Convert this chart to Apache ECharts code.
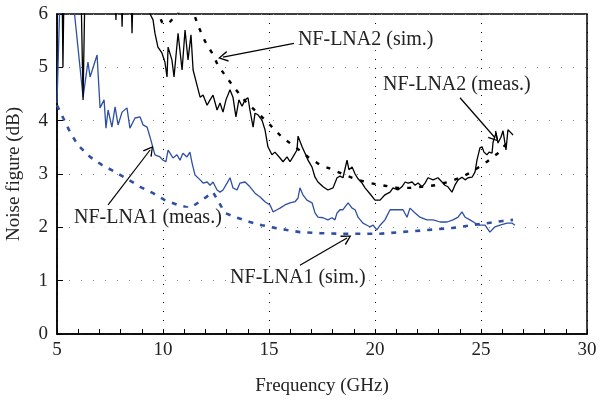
<!DOCTYPE html>
<html>
<head>
<meta charset="utf-8">
<script src="https://cdn.jsdelivr.net/npm/echarts@6/dist/echarts.min.js"></script>
<style>
  html, body { margin: 0; padding: 0; background: #fff; }
  #chart { width: 600px; height: 403px; }
</style>
</head>
<body>
<div id="chart"></div>
<script>
// frequency (GHz), noise figure (dB)
var lna1Meas = [
  [5.00,4.33],[5.14,6.3],[5.75,6.3],[6.23,4.44],[6.46,5.10],[6.56,4.82],[6.89,5.23],[7.03,4.24],
  [7.22,4.39],[7.31,3.86],[7.41,4.20],[7.59,3.88],[7.74,4.26],[7.88,3.92],[8.07,4.16],[8.30,4.24],
  [8.44,3.86],[8.68,4.05],[8.92,4.07],[9.06,3.92],[9.25,3.88],[9.39,3.69],[9.62,3.36],[9.86,3.32],
  [10.00,3.26],[10.14,3.23],[10.24,3.45],[10.33,3.39],[10.47,3.30],[10.66,3.36],[10.80,3.26],
  [10.94,3.39],[11.13,3.32],[11.27,3.41],[11.37,3.21],[11.51,2.98],[11.75,2.89],[11.89,2.83],
  [12.08,2.85],[12.22,2.79],[12.36,2.85],[12.55,2.70],[12.69,2.66],[12.83,2.70],[13.02,2.83],
  [13.16,2.93],[13.30,2.74],[13.49,2.70],[13.63,2.83],[13.87,2.85],[14.10,2.76],[14.34,2.64],
  [14.58,2.57],[14.81,2.48],[15.05,2.42],[15.19,2.29],[15.38,2.33],[15.52,2.36],[15.75,2.42],
  [15.99,2.46],[16.23,2.48],[16.37,2.55],[16.46,2.74],[16.60,2.61],[16.79,2.51],[17.03,2.46],
  [17.17,2.27],[17.31,2.19],[17.55,2.18],[17.78,2.14],[17.97,2.18],[18.11,2.14],[18.21,2.27],
  [18.35,2.33],[18.49,2.33],[18.73,2.46],[18.92,2.36],[19.06,2.33],[19.20,2.19],[19.43,2.08],
  [19.62,2.04],[19.76,2.01],[19.91,2.04],[20.09,1.95],[20.24,2.04],[20.47,2.14],[20.71,2.33],
  [21.04,2.33],[21.32,2.33],[21.51,2.19],[21.65,2.36],[21.89,2.27],[22.12,2.19],[22.45,2.14],
  [22.74,2.14],[23.07,2.10],[23.40,2.10],[23.68,2.14],[23.92,2.19],[24.10,2.29],[24.25,2.19],
  [24.48,2.14],[24.72,2.08],[24.95,2.04],[25.19,2.04],[25.42,1.91],[25.66,2.01],[25.90,2.04],
  [26.23,2.08],[26.46,2.08],[26.60,2.04]
];
var lna1Sim = [
  [5.00,4.29],[5.61,3.79],[5.99,3.54],[6.56,3.32],[7.12,3.17],[7.74,3.04],[8.30,2.91],[8.92,2.76],
  [9.53,2.64],[10.09,2.51],[10.71,2.42],[11.27,2.36],[11.84,2.51],[12.36,2.66],[12.92,2.27],
  [13.49,2.18],[14.10,2.10],[14.67,2.04],[15.28,1.99],[15.85,1.95],[16.46,1.91],[17.41,1.89],
  [18.35,1.88],[19.29,1.88],[20.24,1.88],[21.18,1.91],[22.50,1.95],[23.68,1.99],[24.95,2.06],
  [26.04,2.12],[26.51,2.14]
];
var lna2Meas = [
  [5.00,6.5],[5.24,6.5],[5.28,5.00],[5.33,6.5],[6.13,6.5],[6.23,4.39],[6.32,6.5],[7.74,6.5],
  [7.78,5.89],[7.83,6.5],[8.02,6.5],[8.07,5.76],[8.12,6.5],[8.49,6.5],[8.54,5.64],[8.59,6.5],
  [9.30,6.5],[9.39,6.00],[9.53,5.89],[9.62,5.64],[9.76,5.38],[9.95,5.27],[10.09,5.10],[10.19,4.82],
  [10.24,5.38],[10.42,5.14],[10.52,4.82],[10.71,5.64],[10.90,4.95],[11.04,5.70],[11.18,5.14],
  [11.32,5.61],[11.42,4.95],[11.60,4.67],[11.75,4.44],[11.89,4.48],[12.08,4.29],[12.22,4.39],
  [12.36,4.48],[12.55,4.20],[12.69,4.33],[12.83,4.16],[12.97,4.39],[13.16,4.58],[13.30,4.44],
  [13.44,4.07],[13.58,4.39],[13.73,4.27],[13.87,4.39],[14.01,4.43],[14.10,4.20],[14.25,3.88],
  [14.34,4.14],[14.48,4.11],[14.67,4.01],[14.81,3.83],[14.95,3.51],[15.14,3.36],[15.28,3.41],
  [15.52,3.30],[15.66,3.23],[15.85,3.32],[15.99,3.23],[16.13,3.32],[16.32,3.45],[16.37,3.71],
  [16.56,3.51],[16.70,3.39],[16.84,3.26],[17.03,3.13],[17.17,2.94],[17.31,2.85],[17.55,2.76],
  [17.78,2.70],[18.02,2.74],[18.21,2.93],[18.35,2.96],[18.49,2.93],[18.68,3.26],[18.77,3.08],
  [18.92,3.13],[19.06,3.00],[19.20,2.91],[19.39,2.83],[19.53,2.74],[19.76,2.63],[20.00,2.51],
  [20.24,2.51],[20.47,2.61],[20.71,2.66],[20.85,2.74],[21.08,2.70],[21.27,2.76],[21.42,2.85],
  [21.56,2.83],[21.75,2.85],[21.89,2.79],[22.03,2.83],[22.22,2.76],[22.36,2.83],[22.50,2.93],
  [22.74,2.89],[22.97,2.93],[23.16,2.85],[23.30,2.79],[23.44,2.76],[23.63,2.66],[23.77,2.79],
  [23.92,2.89],[24.10,2.94],[24.25,2.89],[24.39,2.93],[24.58,2.94],[24.72,3.04],[24.81,3.26],
  [24.95,3.49],[25.05,3.51],[25.14,3.41],[25.28,3.36],[25.38,3.41],[25.52,3.39],[25.57,3.60],
  [25.71,3.77],[25.80,3.58],[25.94,3.69],[26.04,3.81],[26.18,3.45],[26.27,3.83],[26.37,3.79],
  [26.51,3.73]
];
var lna2Sim = [
  [9.67,6.11],[9.95,5.85],[10.24,5.81],[10.57,5.96],[10.90,6.11],[11.27,6.08],[11.46,6.00],
  [11.70,5.74],[11.98,5.49],[12.31,5.27],[12.59,5.04],[13.02,4.80],[13.44,4.58],[13.87,4.37],
  [14.48,4.14],[15.05,3.92],[15.61,3.69],[16.23,3.51],[16.84,3.32],[17.41,3.17],[18.02,3.08],
  [18.58,2.98],[19.20,2.89],[19.76,2.83],[20.47,2.78],[21.04,2.74],[21.65,2.74],[22.22,2.76],
  [22.83,2.79],[23.44,2.85],[24.01,2.93],[24.58,3.04],[25.28,3.23],[25.80,3.39],[26.13,3.54],
  [26.51,3.64]
];

// callouts: label text, label anchor, arrow start, arrow tip (data units)
var labelTexts = ['NF-LNA2 (sim.)', 'NF-LNA2 (meas.)', 'NF-LNA1 (meas.)', 'NF-LNA1 (sim.)'];
var labelAt = [[16.27,5.51],[20.28,4.67],[5.71,2.18],[13.07,1.05]];
var arrowFrom = [[16.18,5.45],[24.01,4.43],[7.41,2.42],[16.46,1.29]];
var arrowTo = [[12.83,5.19],[25.66,3.68],[9.39,3.45],[18.68,1.80]];

var xTicks = [5, 10, 15, 20, 25, 30];
var yTicks = [0, 1, 2, 3, 4, 5, 6];

var BLUE = '#2f4fa3';
var FONT = '"Liberation Serif", "DejaVu Serif", serif';

var chart = echarts.init(document.getElementById('chart'));

var arrows = [];
for (var i = 0; i < arrowFrom.length; i++) {
  arrows.push([{ coord: arrowFrom[i] }, { coord: arrowTo[i] }]);
}

// open "V" arrow head, tip at top
var ARROW_HEAD = 'path://M0,10 L5,0 L10,10 L8.8,10.6 L5,2.6 L1.2,10.6 Z';

chart.setOption({
  animation: false,
  grid: {
    left: 57, right: 13, top: 14, bottom: 69,
    containLabel: false, outerBoundsMode: 'none',
    show: true, borderColor: '#000', borderWidth: 1.5
  },
  xAxis: {
    type: 'value',
    min: xTicks[0], max: xTicks[xTicks.length - 1], interval: 5,
    name: 'Frequency (GHz)', nameLocation: 'middle', nameGap: 43,
    nameTextStyle: { fontFamily: FONT, fontSize: 19, color: '#222' },
    axisLine: { lineStyle: { color: '#000', width: 1.5 } },
    axisTick: { inside: true, length: 5, lineStyle: { color: '#000' } },
    minorTick: { show: true, splitNumber: 5, length: 5, lineStyle: { color: '#000' } },
    axisLabel: { fontFamily: FONT, fontSize: 19, color: '#222', margin: 7 },
    splitLine: { show: true, lineStyle: { color: '#000', type: [1, 8], width: 1 } }
  },
  yAxis: {
    type: 'value',
    min: yTicks[0], max: yTicks[yTicks.length - 1], interval: 1,
    name: 'Noise figure (dB)', nameLocation: 'middle', nameGap: 33,
    nameTextStyle: { fontFamily: FONT, fontSize: 19, color: '#222' },
    axisLine: { lineStyle: { color: '#000', width: 1.5 } },
    axisTick: { inside: true, length: 6, lineStyle: { color: '#000' } },
    axisLabel: { fontFamily: FONT, fontSize: 19, color: '#222', margin: 9 },
    splitLine: { show: true, lineStyle: { color: '#888', type: [1, 11], width: 1.2 } }
  },
  series: [
    {
      type: 'line', data: lna1Sim, showSymbol: false, z: 2,
      lineStyle: { color: BLUE, width: 2.6, type: [5, 7] }
    },
    {
      type: 'line', data: lna2Sim, showSymbol: false, z: 2,
      lineStyle: { color: '#000', width: 2.4, type: [4, 8] }
    },
    {
      type: 'line', data: lna1Meas, showSymbol: false, z: 3,
      lineStyle: { color: BLUE, width: 1.3 }
    },
    {
      type: 'line', data: lna2Meas, showSymbol: false, z: 3,
      lineStyle: { color: '#000', width: 1.3 },
      markLine: {
        silent: true, animation: false,
        symbol: ['none', ARROW_HEAD], symbolSize: [11, 10],
        label: { show: false },
        lineStyle: { color: '#000', width: 1.2, type: 'solid' },
        data: arrows
      }
    }
  ]
});

// callout texts positioned from data coords
var texts = [];
for (var j = 0; j < labelTexts.length; j++) {
  var p = chart.convertToPixel({ gridIndex: 0 }, labelAt[j]);
  texts.push({
    type: 'text', x: p[0], y: p[1], z: 10,
    style: {
      text: labelTexts[j], fontFamily: FONT, fontSize: 20, fill: '#222',
      backgroundColor: '#fff', verticalAlign: 'middle', padding: [0, 2]
    }
  });
}
chart.setOption({ graphic: texts });
</script>
</body>
</html>
